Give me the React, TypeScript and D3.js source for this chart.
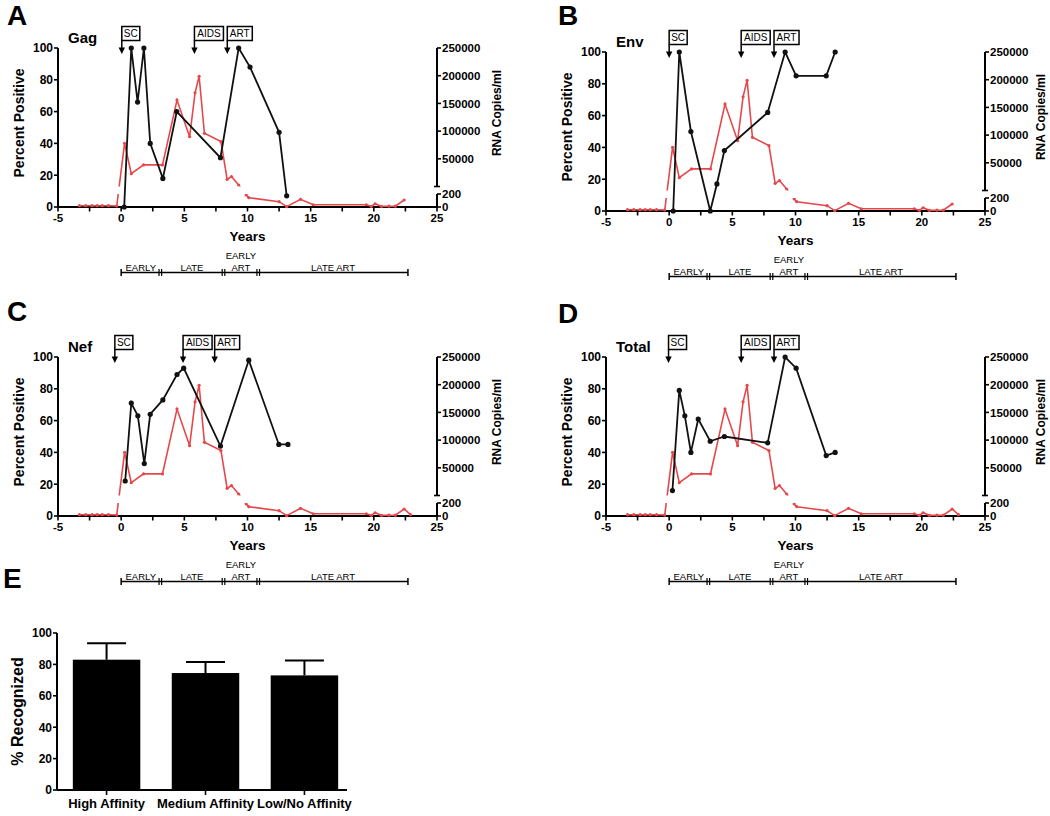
import React from 'react';
import * as d3 from 'd3';

// ---------- DATA ----------
const xTickValues = [-5, -2.5, 0, 2.5, 5, 7.5, 10, 12.5, 15, 17.5, 20, 22.5, 25];
const xTickLabels = [-5, 0, 5, 10, 15, 20, 25];
const pctTicks = [0, 20, 40, 60, 80, 100];
const rnaUpperTicks = [50000, 100000, 150000, 200000, 250000];
const rnaLowerTicks = [0, 200];

// viral load (RNA copies/ml), shared by all panels
const viralYears = [-3.3, -2.8, -2.3, -1.9, -1.5, -1.0, -0.35, 0.27, 0.8, 1.77, 3.27, 4.42, 5.42, 5.85, 6.17, 6.59, 7.9, 8.39, 8.73, 9.3, 9.9, 10.1, 12.5, 13.1, 14.2, 15.2, 19.4, 19.8, 20.1, 20.6, 21.2, 21.7, 22.4, 22.9];
const viralLoad = [20, 20, 20, 20, 20, 20, 15, 78000, 23000, 39000, 39000, 156000, 90000, 169000, 199000, 96000, 81000, 13000, 18000, 2700, 185, 143, 82, 5, 118, 35, 35, 10, 50, 10, 12, 12, 108, 20];

const gagYears = [0.24, 0.8, 1.3, 1.8, 2.3, 3.3, 4.4, 7.86, 9.3, 10.2, 12.5, 13.1];
const gagPct = [0, 100, 66, 100, 40, 18, 60, 31, 100, 88, 47, 7];

const envYears = [0.32, 0.8, 1.72, 3.25, 3.78, 4.37, 7.8, 9.18, 10.05, 12.43, 13.14];
const envPct = [0, 100, 50, 0, 17, 38, 62, 100, 85, 85, 100];

const nefYears = [0.32, 0.8, 1.32, 1.83, 2.3, 3.3, 4.42, 4.95, 7.86, 10.1, 12.48, 13.2];
const nefPct = [22, 71, 63, 33, 64, 73, 89, 93, 44, 98, 45, 45];

const totalYears = [0.26, 0.8, 1.24, 1.72, 2.3, 3.25, 4.37, 7.8, 9.18, 10.05, 12.43, 13.14];
const totalPct = [16, 79, 63, 40, 61, 47, 50, 46, 100, 93, 38, 40];

const eventLabels = ['SC', 'AIDS', 'ART'];
const gagEvents = [0.05, 5.8, 8.4];
const envEvents = [0.0, 5.7, 8.3];
const nefEvents = [-0.5, 4.9, 7.4];
const totalEvents = [-0.05, 5.7, 8.3];

const phaseBreaks = [0, 3.1, 8.1, 10.85, 22.7];
const phaseLabels = [['EARLY'], ['LATE'], ['EARLY', 'ART'], ['LATE ART']];

const affinityCats = ['High Affinity', 'Medium Affinity', 'Low/No Affinity'];
const affinityMean = [83, 74.5, 73];
const affinitySD = [10.5, 7, 9.5];
const recogTicks = [0, 20, 40, 60, 80, 100];

// ---------- STYLE ----------
const FONT = '"Liberation Sans", Arial, Helvetica, sans-serif';
const RED = '#e5484b';

type PanelProps = {
  id: string;
  left: number;
  top: number;
  letter: string;
  letterX: number;
  letterY: number;
  name: string;
  years: number[];
  values: number[];
  events: number[];
  viralCount: number;
  rnaLabelOffset: number;
};

const eventBoxWidth: Record<string, number> = { SC: 18, AIDS: 29, ART: 25 };

function Panel(p: PanelProps) {
  const width = 379;
  const height = 159;
  const left = p.left;
  const right = left + width;
  const top = p.top;
  const bottom = top + height;
  const x = d3.scaleLinear().domain([-5, 25]).range([left, right]);
  const yP = d3.scaleLinear().domain([0, 100]).range([bottom, top]);
  const upperBottom = bottom - 20.5;
  const lowerTop = bottom - 13;
  const yHi = d3.scaleLinear().domain([0, 250000]).range([upperBottom, top]);
  const yLo = d3.scaleLinear().domain([0, 200]).range([bottom, lowerTop]);
  const yR = (v: number) => (v <= 200 ? yLo(v) : yHi(v));

  const vy = viralYears.slice(0, p.viralCount);
  const vv = viralLoad.slice(0, p.viralCount);
  const redPts: [number, number][] = vy.map((t, i) => [x(t), yR(vv[i])]);
  const blackPts: [number, number][] = p.years.map((t, i) => [x(t), yP(p.values[i])]);
  const line = d3.line();

  const clipId = `clip-${p.id}`;
  const phaseY = bottom + 65.5;

  return (
    <g>
      <defs>
        <clipPath id={clipId}>
          <rect x={left - 20} y={top - 40} width={width + 40} height={upperBottom - (top - 40)} />
          <rect x={left - 20} y={lowerTop} width={width + 40} height={30} />
        </clipPath>
      </defs>
      {/* panel letter */}
      <text x={p.letterX} y={p.letterY} fontFamily={FONT} fontWeight="bold" fontSize={28}>{p.letter}</text>
      <text x={left + 10} y={top - 5} fontFamily={FONT} fontWeight="bold" fontSize={15}>{p.name}</text>

      {/* left axis */}
      <line x1={left} x2={left} y1={top} y2={bottom} stroke="#000" strokeWidth={2} />
      {pctTicks.map((t) => (
        <g key={'lp' + t}>
          <line x1={left - 4} x2={left} y1={yP(t)} y2={yP(t)} stroke="#000" strokeWidth={1.6} />
          <text x={left - 5} y={yP(t)} dy="0.36em" textAnchor="end" fontFamily={FONT} fontWeight="bold" fontSize={12}>{t}</text>
        </g>
      ))}
      <text transform={`translate(${left - 39},${top + 75}) rotate(-90)`} textAnchor="middle" dy="0.36em" fontFamily={FONT} fontWeight="bold" fontSize={14}>Percent Positive</text>

      {/* x axis */}
      <line x1={left} x2={right} y1={bottom} y2={bottom} stroke="#000" strokeWidth={2} />
      {xTickValues.map((t) => (
        <line key={'xt' + t} x1={x(t)} x2={x(t)} y1={bottom} y2={bottom + 4.5} stroke="#000" strokeWidth={1.6} />
      ))}
      {xTickLabels.map((t) => (
        <text key={'xl' + t} x={x(t)} y={bottom + 15} textAnchor="middle" fontFamily={FONT} fontWeight="bold" fontSize={11.5}>{t}</text>
      ))}
      <text x={(left + right) / 2} y={bottom + 34} textAnchor="middle" fontFamily={FONT} fontWeight="bold" fontSize={13.5}>Years</text>

      {/* right axis, broken */}
      <line x1={right} x2={right} y1={top} y2={upperBottom} stroke="#000" strokeWidth={2} />
      <line x1={right - 3} x2={right + 3} y1={upperBottom} y2={upperBottom} stroke="#000" strokeWidth={1.6} />
      {rnaUpperTicks.map((t) => (
        <g key={'ru' + t}>
          <line x1={right} x2={right + 4} y1={yHi(t)} y2={yHi(t)} stroke="#000" strokeWidth={1.6} />
          <text x={right + 5} y={yHi(t)} dy="0.36em" fontFamily={FONT} fontWeight="bold" fontSize={11.5}>{t}</text>
        </g>
      ))}
      <line x1={right} x2={right} y1={lowerTop} y2={bottom} stroke="#000" strokeWidth={2} />
      {rnaLowerTicks.map((t) => (
        <g key={'rl' + t}>
          <line x1={right} x2={right + 4} y1={yLo(t)} y2={yLo(t)} stroke="#000" strokeWidth={1.6} />
          <text x={right + 5} y={yLo(t)} dy="0.36em" fontFamily={FONT} fontWeight="bold" fontSize={11.5}>{t}</text>
        </g>
      ))}
      <text transform={`translate(${right + p.rnaLabelOffset},${top + 65}) rotate(-90)`} textAnchor="middle" dy="0.36em" fontFamily={FONT} fontWeight="bold" fontSize={12}>RNA Copies/ml</text>

      {/* viral load (red) */}
      <g clipPath={`url(#${clipId})`}>
        <path d={line(redPts) || ''} fill="none" stroke={RED} strokeWidth={1.6} />
        {redPts.map((pt, i) => (
          <circle key={'rp' + i} cx={pt[0]} cy={pt[1]} r={1.6} fill={RED} />
        ))}
      </g>

      {/* percent positive (black) */}
      <path d={line(blackPts) || ''} fill="none" stroke="#111" strokeWidth={1.8} />
      {blackPts.map((pt, i) => (
        <circle key={'bp' + i} cx={pt[0]} cy={pt[1]} r={2.6} fill="#111" />
      ))}

      {/* event annotations */}
      {p.events.map((t, i) => {
        const ax = x(t);
        const w = eventBoxWidth[eventLabels[i]];
        const by0 = top - 21.5;
        const by1 = top - 7.5;
        return (
          <g key={'ev' + i}>
            <rect x={ax} y={by0} width={w} height={by1 - by0} fill="#fff" stroke="#000" strokeWidth={1.5} />
            <text x={ax + w / 2} y={(by0 + by1) / 2} dy="0.36em" textAnchor="middle" fontFamily={FONT} fontSize={10}>{eventLabels[i]}</text>
            <line x1={ax} x2={ax} y1={by1} y2={top} stroke="#000" strokeWidth={1.5} />
            <path d={`M${ax - 3.2},${top - 0.5} L${ax + 3.2},${top - 0.5} L${ax},${top + 6} Z`} fill="#000" />
          </g>
        );
      })}

      {/* phase bar */}
      <line x1={x(phaseBreaks[0])} x2={x(phaseBreaks[phaseBreaks.length - 1])} y1={phaseY} y2={phaseY} stroke="#000" strokeWidth={1.5} />
      {phaseBreaks.map((b, i) => {
        const bx = x(b);
        const isEnd = i === 0 || i === phaseBreaks.length - 1;
        return isEnd ? (
          <line key={'pb' + i} x1={bx} x2={bx} y1={phaseY - 3.5} y2={phaseY + 3.5} stroke="#000" strokeWidth={1.5} />
        ) : (
          <g key={'pb' + i}>
            <line x1={bx - 1.3} x2={bx - 1.3} y1={phaseY - 3.5} y2={phaseY + 3.5} stroke="#000" strokeWidth={1.2} />
            <line x1={bx + 1.3} x2={bx + 1.3} y1={phaseY - 3.5} y2={phaseY + 3.5} stroke="#000" strokeWidth={1.2} />
          </g>
        );
      })}
      {phaseLabels.map((lines, i) => {
        const cx = (x(phaseBreaks[i]) + x(phaseBreaks[i + 1])) / 2;
        return lines.map((s, j) => (
          <text key={'pl' + i + '-' + j} x={cx} y={phaseY - 2 - (lines.length - 1 - j) * 12} textAnchor="middle" fontFamily={FONT} fontSize={9.5}>{s}</text>
        ));
      })}
    </g>
  );
}

function BarPanel() {
  const left = 57;
  const top = 633;
  const bottom = 790;
  const x = d3.scaleBand<string>().domain(affinityCats).range([left, 354]).paddingInner(0.318).paddingOuter(0.16);
  const y = d3.scaleLinear().domain([0, 100]).range([bottom, top]);
  const bw = x.bandwidth();
  return (
    <g>
      <text x={3} y={588} fontFamily={FONT} fontWeight="bold" fontSize={28}>E</text>
      {affinityCats.map((c, i) => {
        const bx = x(c) as number;
        const cx = bx + bw / 2;
        const errTop = y(affinityMean[i] + affinitySD[i]);
        return (
          <g key={c}>
            <line x1={cx} x2={cx} y1={y(affinityMean[i])} y2={errTop} stroke="#000" strokeWidth={2} />
            <line x1={cx - 19.5} x2={cx + 19.5} y1={errTop} y2={errTop} stroke="#000" strokeWidth={2} />
            <rect x={bx} y={y(affinityMean[i])} width={bw} height={bottom - y(affinityMean[i])} fill="#000" />
            <line x1={cx} x2={cx} y1={bottom} y2={bottom + 5} stroke="#000" strokeWidth={1.6} />
            <text x={cx} y={bottom + 18} textAnchor="middle" fontFamily={FONT} fontWeight="bold" fontSize={13}>{c}</text>
          </g>
        );
      })}
      <line x1={left} x2={left} y1={top} y2={bottom} stroke="#000" strokeWidth={2} />
      <line x1={left} x2={347} y1={bottom} y2={bottom} stroke="#000" strokeWidth={2} />
      {recogTicks.map((t) => (
        <g key={'rt' + t}>
          <line x1={left - 4} x2={left} y1={y(t)} y2={y(t)} stroke="#000" strokeWidth={1.6} />
          <text x={left - 5} y={y(t)} dy="0.36em" textAnchor="end" fontFamily={FONT} fontWeight="bold" fontSize={12}>{t}</text>
        </g>
      ))}
      <text transform={`translate(17,${(top + bottom) / 2}) rotate(-90)`} textAnchor="middle" dy="0.36em" fontFamily={FONT} fontWeight="bold" fontSize={16}>% Recognized</text>
    </g>
  );
}

export default function App() {
  return (
    <svg width={1050} height={816} style={{ position: 'absolute', left: 0, top: 0, background: '#fff' }}>
      <rect x={0} y={0} width={1050} height={816} fill="#fff" />
      <Panel id="A" left={58} top={48} letter="A" letterX={7} letterY={25} name="Gag" years={gagYears} values={gagPct} events={gagEvents} viralCount={viralYears.length - 1} rnaLabelOffset={60} />
      <Panel id="B" left={606} top={52} letter="B" letterX={558} letterY={25} name="Env" years={envYears} values={envPct} events={envEvents} viralCount={viralYears.length - 1} rnaLabelOffset={56} />
      <Panel id="C" left={58} top={357} letter="C" letterX={7} letterY={321} name="Nef" years={nefYears} values={nefPct} events={nefEvents} viralCount={viralYears.length} rnaLabelOffset={60} />
      <Panel id="D" left={606} top={357} letter="D" letterX={558} letterY={323} name="Total" years={totalYears} values={totalPct} events={totalEvents} viralCount={viralYears.length} rnaLabelOffset={56} />
      <BarPanel />
    </svg>
  );
}
